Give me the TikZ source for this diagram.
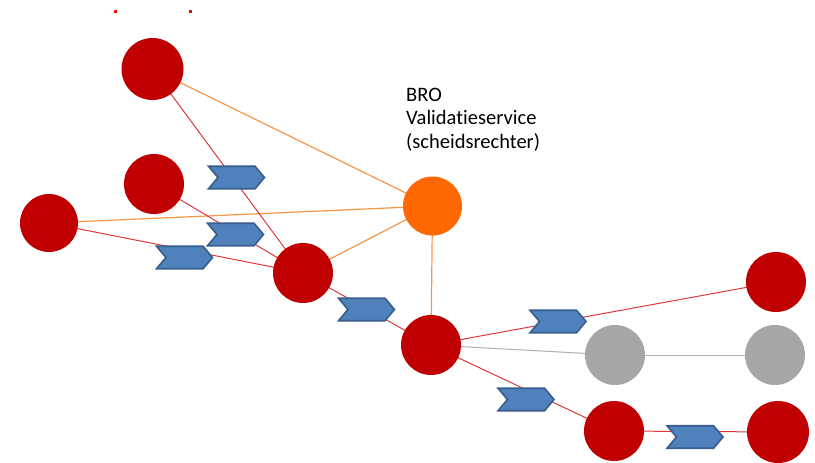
\documentclass[tikz,border=0pt]{standalone}
\usepackage{fontspec}
\setmainfont[Ligatures=NoCommon]{Carlito}
\usetikzlibrary{shapes.symbols,backgrounds}
\definecolor{nodered}{RGB}{192,0,0}
\definecolor{linkred}{RGB}{218,56,58}
\definecolor{linkorange}{RGB}{247,150,70}
\definecolor{nodeorange}{RGB}{255,104,0}
\definecolor{nodegray}{RGB}{166,166,166}
\definecolor{linkgray}{RGB}{175,175,175}
\definecolor{chevfill}{RGB}{79,129,189}
\definecolor{chevline}{RGB}{56,93,138}
\tikzset{
  peer/.style={circle,fill=nodered,inner sep=0pt,minimum size=#1},
  peer/.default=60pt,
  referee/.style={circle,fill=nodeorange,inner sep=0pt,minimum size=59pt},
  idle/.style={circle,fill=nodegray,inner sep=0pt,minimum size=60pt},
  redlink/.style={draw=linkred,line width=1pt},
  orangelink/.style={draw=linkorange,line width=1.2pt},
  graylink/.style={draw=linkgray,line width=1pt},
  chevron/.style={signal,signal to=east,signal from=west,signal pointer angle=100,
    fill=chevfill,draw=chevline,line width=1.6pt,inner sep=0pt,
    minimum width=56pt,minimum height=22.5pt},
}
\begin{document}
\begin{tikzpicture}[x=1pt,y=-1pt]
\useasboundingbox (0,0) rectangle (815,463);
% stray marks along the top edge
\fill[red] (114,10) rectangle (117,12.5);
\fill[red] (189,10) rectangle (192,12.5);

% nodes
\node[peer=62pt] (a) at (152.5,69) {};
\node[peer] (b) at (154,184) {};
\node[peer=58pt] (c) at (49,223) {};
\node[peer] (d) at (303,273) {};
\node[referee] (o) at (432.5,206) {};
\node[peer] (e) at (431,345) {};
\node[peer] (f) at (776,282) {};
\node[idle] (g) at (615,355) {};
\node[idle] (h) at (775,355) {};
\node[peer] (i) at (614,431) {};
\node[peer=62pt] (j) at (778,432) {};

\begin{scope}[on background layer]
  % links to the validation service
  \path[orangelink] (a.center) -- (o.center);
  \path[orangelink] (c.center) -- (o.center);
  \path[orangelink] (d.center) -- (o.center);
  \path[orangelink] (o.center) -- (e.center);
  % data exchange links
  \path[redlink] (a.center) -- (d.center);
  \path[redlink] (b.center) -- (d.center);
  \path[redlink] (c.center) -- (d.center);
  \path[redlink] (d.center) -- (e.center);
  \path[redlink] (e.center) -- (f.center);
  \path[redlink] (e.center) -- (i.center);
  \path[redlink] (i.center) -- (j.center);
  \path[graylink] (e.center) -- (g.center);
  \path[graylink] (g.center) -- (h.center);
\end{scope}

% chevrons marking data flow
\node[chevron] (s1) at (236.5,177.5) {};
\node[chevron] (s2) at (235.5,234.5) {};
\node[chevron] (s3) at (184.5,257.5) {};
\node[chevron] (s4) at (366.5,309.5) {};
\node[chevron] (s5) at (558,321.5) {};
\node[chevron] (s6) at (526,399.5) {};
\node[chevron] (s7) at (695,437) {};

% label of the validation service (base anchor sits on the last line)
\node[anchor=base west,align=left,font=\fontsize{20.5}{23.5}\selectfont,inner sep=0pt]
  (lbl) at (406,148) {BRO\\Validatieservice\\(scheidsrechter)};
\end{tikzpicture}
\end{document}
